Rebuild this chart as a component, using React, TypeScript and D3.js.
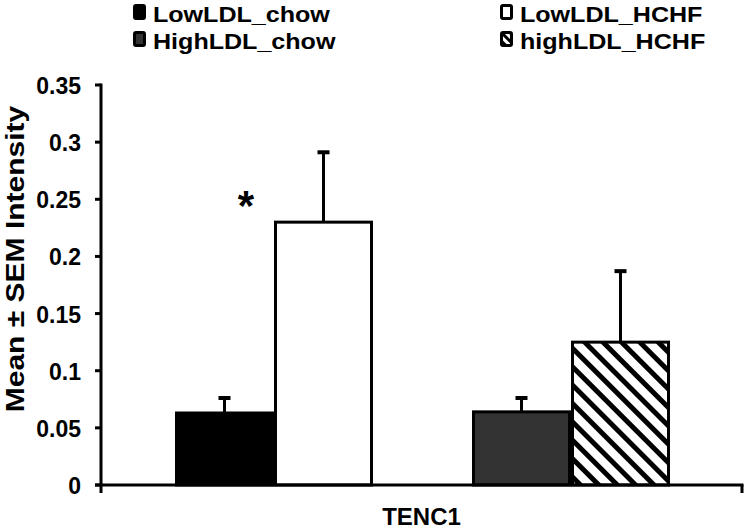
import React from 'react';
import * as d3 from 'd3';

// slots along the single TENC1 category; the empty slot is the gap between the pairs
const slots = ['LowLDL_chow', 'LowLDL_HCHF', '', 'HighLDL_chow', 'highLDL_HCHF'];
const series = ['LowLDL_chow', 'LowLDL_HCHF', 'HighLDL_chow', 'highLDL_HCHF'];
const means = [0.063, 0.23, 0.064, 0.125];
const sems = [0.014, 0.062, 0.013, 0.063];
const yTicks = [0, 0.05, 0.1, 0.15, 0.2, 0.25, 0.3, 0.35];
const category = 'TENC1';
const yTitle = 'Mean ± SEM Intensity';
const starSeries = 'LowLDL_HCHF';

const W = 747;
const H = 529;
const FONT = "Arial, 'Liberation Sans', Helvetica, sans-serif";

const fills: Record<string, string> = {
  LowLDL_chow: '#000000',
  LowLDL_HCHF: '#ffffff',
  HighLDL_chow: '#333333',
  highLDL_HCHF: 'url(#hatch)',
};

const legendItems = [
  { name: 'LowLDL_chow', x: 133, y: 4 },
  { name: 'HighLDL_chow', x: 133, y: 31 },
  { name: 'LowLDL_HCHF', x: 500, y: 4 },
  { name: 'highLDL_HCHF', x: 500, y: 31 },
];

const App: React.FC = () => {
  const axisX = 101;
  const axisRight = 742;

  const y = d3.scaleLinear().domain([0, 0.35]).range([485, 85]);
  const x = d3.scaleBand<string>().domain(slots).range([175, 670]).padding(0);
  const bw = x.bandwidth();

  const starX = (x(starSeries) ?? 0) - 28;

  return (
    <svg
      width={W}
      height={H}
      style={{ position: 'absolute', left: 0, top: 0, background: '#fff' }}
      fontFamily={FONT}
    >
      <defs>
        <pattern
          id="hatch"
          patternUnits="userSpaceOnUse"
          width={13}
          height={13}
          patternTransform="rotate(-45)"
        >
          <rect width={13} height={13} fill="#fff" />
          <rect width={5} height={13} fill="#000" />
        </pattern>
        <pattern
          id="hatchSmall"
          patternUnits="userSpaceOnUse"
          width={6}
          height={6}
          patternTransform="rotate(-45)"
        >
          <rect width={6} height={6} fill="#fff" />
          <rect width={3} height={6} fill="#000" />
        </pattern>
      </defs>

      {/* legend */}
      {legendItems.map(item => (
        <g key={item.name}>
          <rect
            x={item.x + 1.5}
            y={item.y + 1.5}
            width={10}
            height={13}
            rx={1.5}
            fill={item.name === 'highLDL_HCHF' ? 'url(#hatchSmall)' : fills[item.name]}
            stroke="#000"
            strokeWidth={3}
          />
          <text
            transform={`translate(${item.x + 20},${item.y + 18}) scale(1.14,1)`}
            fontSize={22}
            fontWeight="bold"
            fill="#000"
          >
            {item.name}
          </text>
        </g>
      ))}

      {/* bars */}
      {series.map((s, i) => {
        const x0 = x(s) ?? 0;
        const top = y(means[i]);
        const errTop = y(means[i] + sems[i]);
        const cx = x0 + bw / 2;
        return (
          <g key={s}>
            <line x1={cx} x2={cx} y1={top} y2={errTop} stroke="#000" strokeWidth={3} />
            <line x1={cx - 6} x2={cx + 6} y1={errTop + 1} y2={errTop + 1} stroke="#000" strokeWidth={4} />
            <rect
              x={x0 + 1.5}
              y={top}
              width={bw - 3}
              height={y(0) - top}
              fill={fills[s]}
              stroke="#000"
              strokeWidth={3}
            />
          </g>
        );
      })}

      <text x={starX} y={220} fontSize={42} fontWeight="bold" textAnchor="middle">
        *
      </text>

      {/* y axis */}
      <line x1={axisX} x2={axisX} y1={y(0.35) - 1.5} y2={493} stroke="#000" strokeWidth={3} />
      {yTicks.map(t => (
        <g key={t}>
          <line x1={axisX - 6} x2={axisX} y1={y(t)} y2={y(t)} stroke="#000" strokeWidth={3} />
          <text
            x={81}
            y={y(t) + 9}
            textAnchor="end"
            fontSize={23}
            fontWeight="bold"
          >
            {String(t)}
          </text>
        </g>
      ))}

      {/* x axis */}
      <line x1={axisX - 6} x2={axisRight + 1.5} y1={y(0)} y2={y(0)} stroke="#000" strokeWidth={3} />
      <line x1={axisRight} x2={axisRight} y1={y(0)} y2={493} stroke="#000" strokeWidth={3} />
      <text
        x={(axisX + axisRight) / 2}
        y={525}
        textAnchor="middle"
        fontSize={24}
        fontWeight="bold"
      >
        {category}
      </text>

      <text
        transform={`translate(24,259) rotate(-90) scale(1.2,1)`}
        textAnchor="middle"
        fontSize={25}
        fontWeight="bold"
      >
        {yTitle}
      </text>
    </svg>
  );
};

export default App;
